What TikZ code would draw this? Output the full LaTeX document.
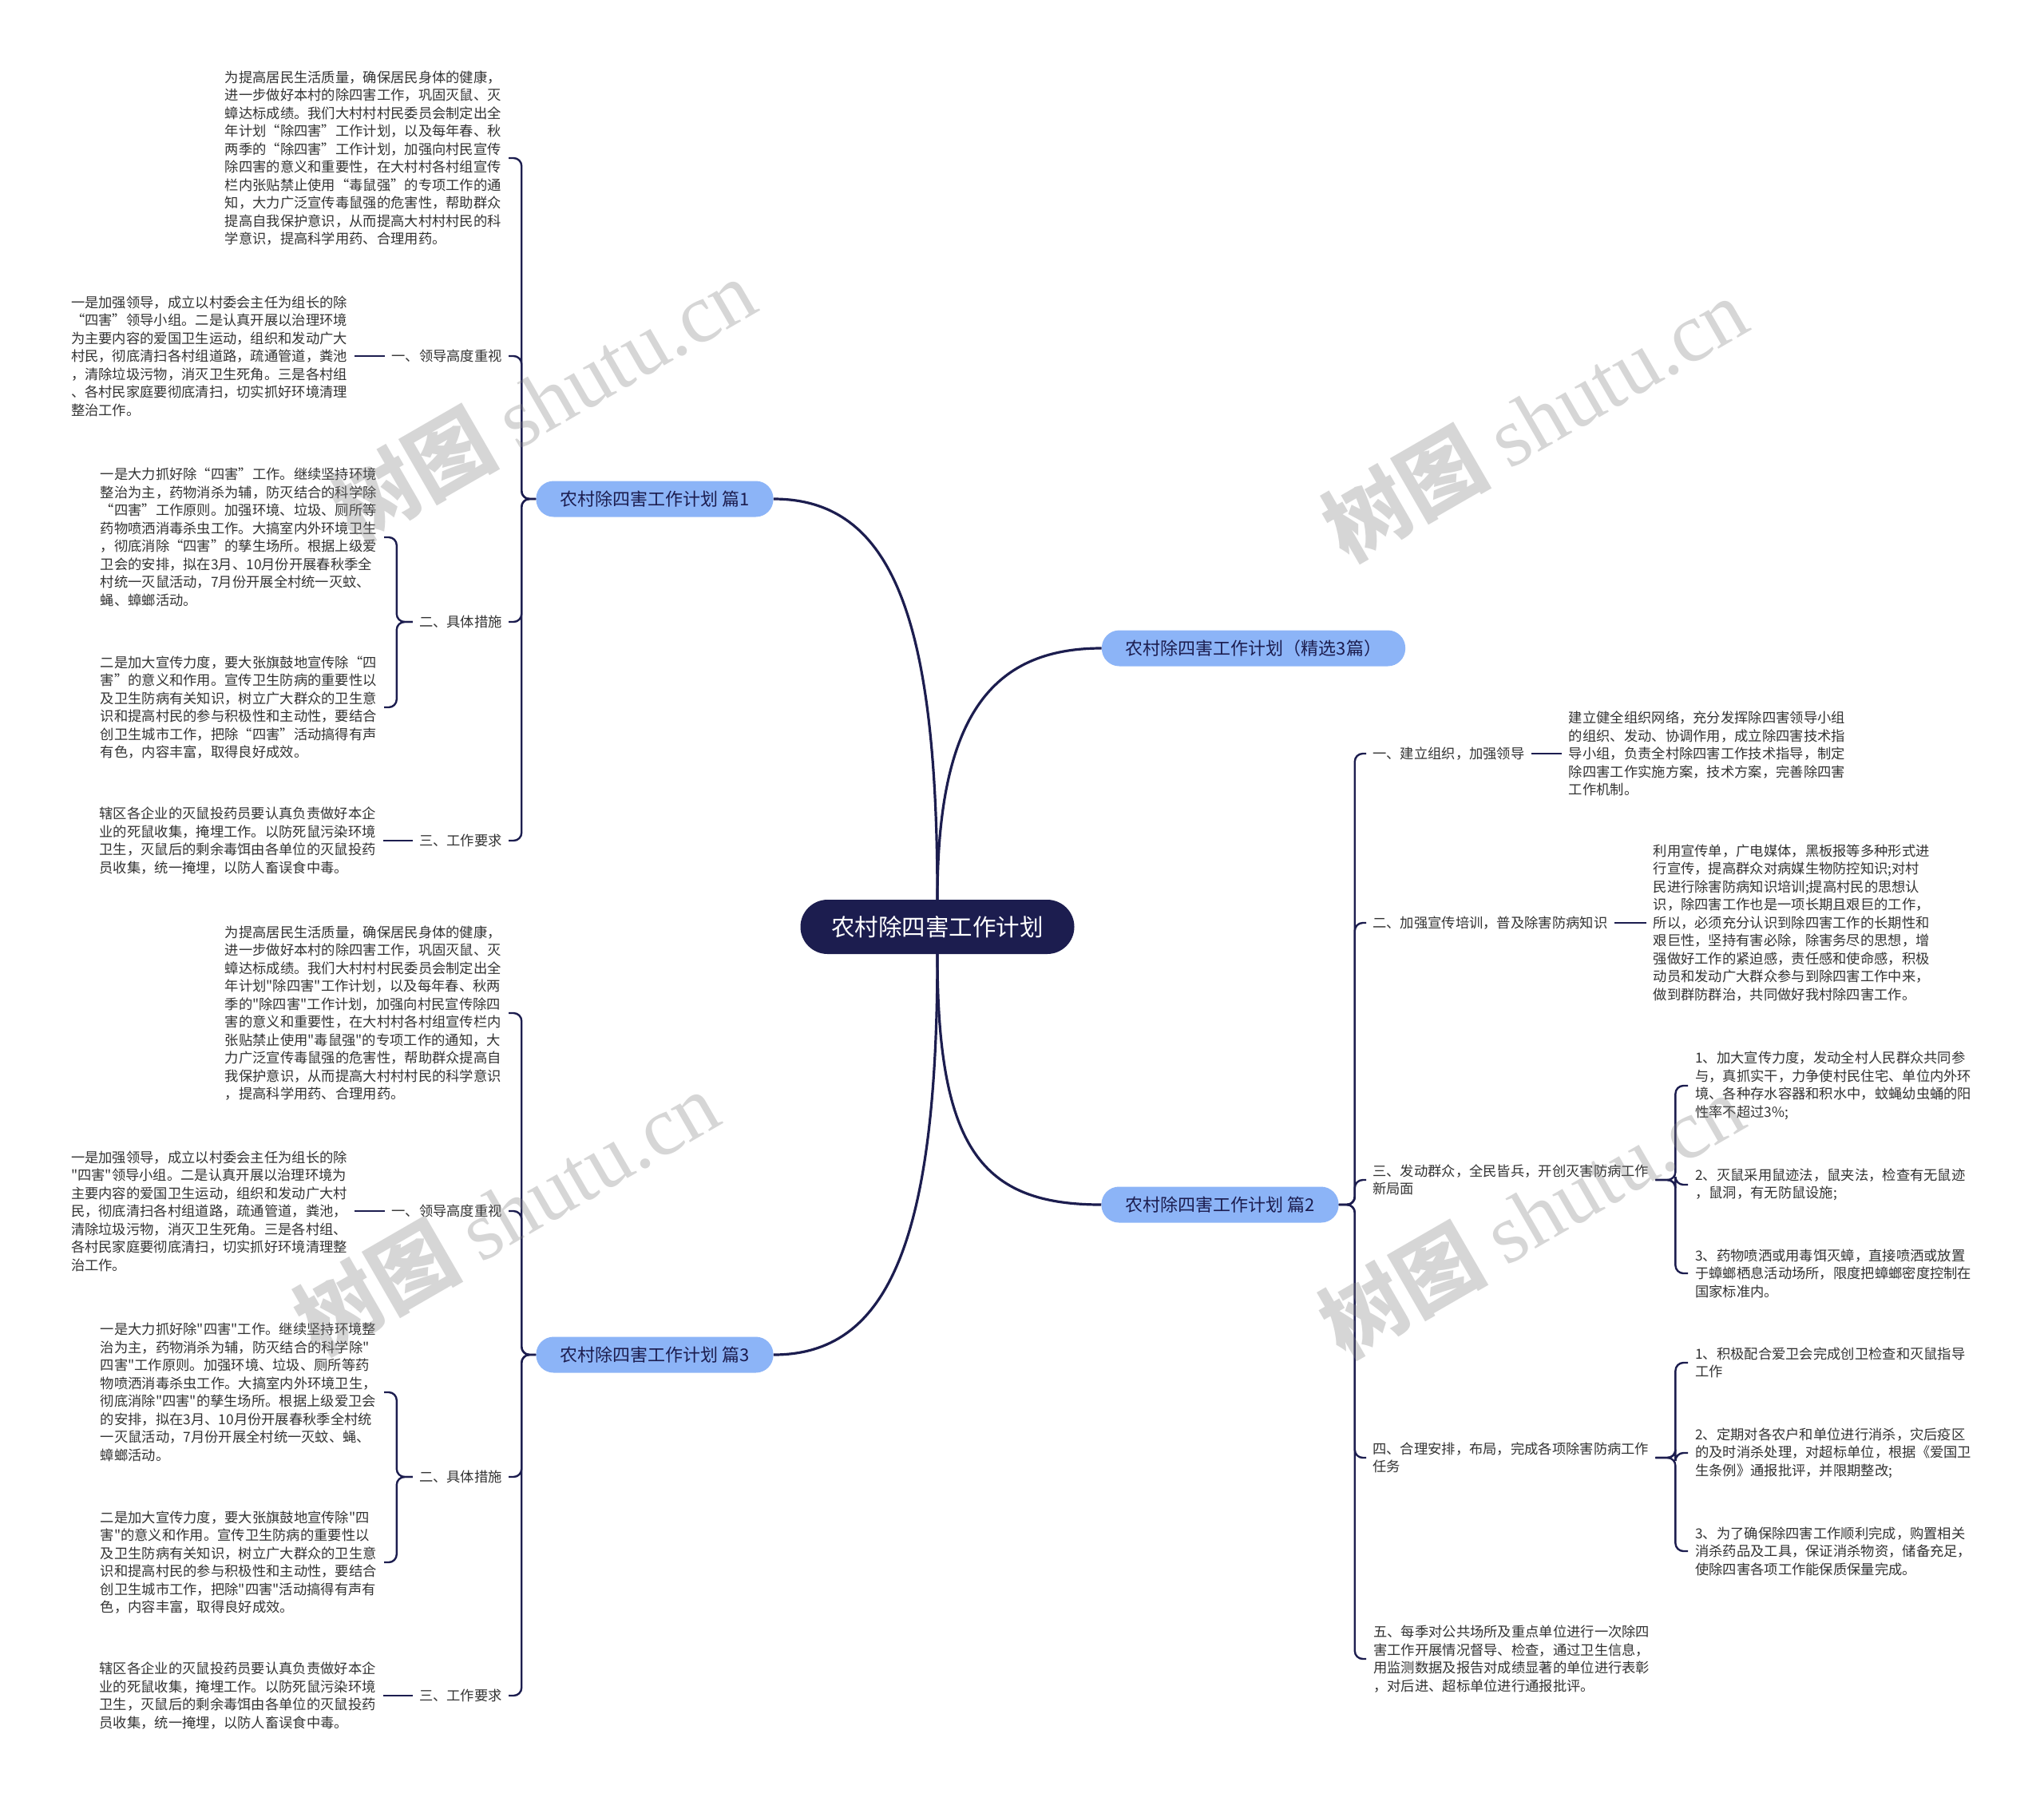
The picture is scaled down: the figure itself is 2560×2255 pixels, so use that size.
\documentclass[tikz,border=0pt]{standalone}
\usepackage{fontspec}
\setmainfont{Noto Sans CJK SC}
\newfontfamily\cjk{Noto Sans CJK SC}
\newfontfamily\wmlatin{Liberation Serif}
\usetikzlibrary{positioning}
\definecolor{navy}{HTML}{1C1D4F}
\definecolor{topicblue}{HTML}{8CB4F7}
\definecolor{txt}{HTML}{333333}

\begin{document}
\begin{tikzpicture}[x=1pt,y=-1pt,node distance=38pt,
  rootbox/.style={fill=navy,text=white,rounded corners=34pt,minimum width=343pt,minimum height=68pt,font=\cjk\fontsize{29.5}{34}\selectfont},
  topicbox/.style={fill=topicblue,text=navy,rounded corners=22pt,minimum height=45pt,inner xsep=30pt,font=\cjk\fontsize{22}{26}\selectfont},
  subitem/.style={text=txt,align=left,inner xsep=8pt,inner ysep=2pt,font=\cjk\fontsize{17.3}{22.5}\selectfont},
  leafbox/.style={subitem,inner xsep=9pt},
  conn/.style={draw=navy,line width=3.2pt},
  branchline/.style={draw=navy,line width=2.4pt,rounded corners=10pt},
  wm/.style={text=gray,text opacity=0.32,rotate=30,font=\cjk\bfseries\fontsize{105}{110}\selectfont}]
\fill[white] (0,0) rectangle (2560,2255);
\useasboundingbox (0,0) rectangle (2560,2255);

\node (main) [rootbox] at (1174,1161) {农村除四害工作计划};
\node (p0) [topicbox] at (1570,812) {农村除四害工作计划（精选3篇）};
\node (p1) [topicbox] at (820,625) {农村除四害工作计划 篇1};
\node (p2) [topicbox] at (1528,1509) {农村除四害工作计划 篇2};
\node (p3) [topicbox] at (820,1697) {农村除四害工作计划 篇3};

% 篇1
\node (t11) [leafbox,anchor=east] at (637,198) {为提高居民生活质量，确保居民身体的健康，\\进一步做好本村的除四害工作，巩固灭鼠、灭\\蟑达标成绩。我们大村村村民委员会制定出全\\年计划“除四害”工作计划，以及每年春、秋\\两季的“除四害”工作计划，加强向村民宣传\\除四害的意义和重要性，在大村村各村组宣传\\栏内张贴禁止使用“毒鼠强”的专项工作的通\\知，大力广泛宣传毒鼠强的危害性，帮助群众\\提高自我保护意识，从而提高大村村村民的科\\学意识，提高科学用药、合理用药。};
\node (s11) [subitem,anchor=east] at (637,446) {一、领导高度重视};
\node (l11) [leafbox,left=of s11] {一是加强领导，成立以村委会主任为组长的除\\“四害”领导小组。二是认真开展以治理环境\\为主要内容的爱国卫生运动，组织和发动广大\\村民，彻底清扫各村组道路，疏通管道，粪池\\，清除垃圾污物，消灭卫生死角。三是各村组\\、各村民家庭要彻底清扫，切实抓好环境清理\\整治工作。};
\node (s12) [subitem,anchor=east] at (637,779) {二、具体措施};
\node (m11) [leafbox,anchor=east] at (481,673) {一是大力抓好除“四害”工作。继续坚持环境\\整治为主，药物消杀为辅，防灭结合的科学除\\“四害”工作原则。加强环境、垃圾、厕所等\\药物喷洒消毒杀虫工作。大搞室内外环境卫生\\，彻底消除“四害”的孳生场所。根据上级爱\\卫会的安排，拟在3月、10月份开展春秋季全\\村统一灭鼠活动，7月份开展全村统一灭蚊、\\蝇、蟑螂活动。};
\node (m12) [leafbox,anchor=east] at (481,886) {二是加大宣传力度，要大张旗鼓地宣传除“四\\害”的意义和作用。宣传卫生防病的重要性以\\及卫生防病有关知识，树立广大群众的卫生意\\识和提高村民的参与积极性和主动性，要结合\\创卫生城市工作，把除“四害”活动搞得有声\\有色，内容丰富，取得良好成效。};
\node (s13) [subitem,anchor=east] at (637,1053) {三、工作要求};
\node (w11) [leafbox,left=37pt of s13] {辖区各企业的灭鼠投药员要认真负责做好本企\\业的死鼠收集，掩埋工作。以防死鼠污染环境\\卫生，灭鼠后的剩余毒饵由各单位的灭鼠投药\\员收集，统一掩埋，以防人畜误食中毒。};

% 篇3
\node (t31) [leafbox,anchor=east] at (637,1269) {为提高居民生活质量，确保居民身体的健康，\\进一步做好本村的除四害工作，巩固灭鼠、灭\\蟑达标成绩。我们大村村村民委员会制定出全\\年计划"除四害"工作计划，以及每年春、秋两\\季的"除四害"工作计划，加强向村民宣传除四\\害的意义和重要性，在大村村各村组宣传栏内\\张贴禁止使用"毒鼠强"的专项工作的通知，大\\力广泛宣传毒鼠强的危害性，帮助群众提高自\\我保护意识，从而提高大村村村民的科学意识\\，提高科学用药、合理用药。};
\node (s31) [subitem,anchor=east] at (637,1517) {一、领导高度重视};
\node (l31) [leafbox,left=of s31] {一是加强领导，成立以村委会主任为组长的除\\"四害"领导小组。二是认真开展以治理环境为\\主要内容的爱国卫生运动，组织和发动广大村\\民，彻底清扫各村组道路，疏通管道，粪池，\\清除垃圾污物，消灭卫生死角。三是各村组、\\各村民家庭要彻底清扫，切实抓好环境清理整\\治工作。};
\node (s32) [subitem,anchor=east] at (637,1850) {二、具体措施};
\node (m31) [leafbox,anchor=east] at (481,1744) {一是大力抓好除"四害"工作。继续坚持环境整\\治为主，药物消杀为辅，防灭结合的科学除"\\四害"工作原则。加强环境、垃圾、厕所等药\\物喷洒消毒杀虫工作。大搞室内外环境卫生，\\彻底消除"四害"的孳生场所。根据上级爱卫会\\的安排，拟在3月、10月份开展春秋季全村统\\一灭鼠活动，7月份开展全村统一灭蚊、蝇、\\蟑螂活动。};
\node (m32) [leafbox,anchor=east] at (481,1957) {二是加大宣传力度，要大张旗鼓地宣传除"四\\害"的意义和作用。宣传卫生防病的重要性以\\及卫生防病有关知识，树立广大群众的卫生意\\识和提高村民的参与积极性和主动性，要结合\\创卫生城市工作，把除"四害"活动搞得有声有\\色，内容丰富，取得良好成效。};
\node (s33) [subitem,anchor=east] at (637,2124) {三、工作要求};
\node (w31) [leafbox,left=37pt of s33] {辖区各企业的灭鼠投药员要认真负责做好本企\\业的死鼠收集，掩埋工作。以防死鼠污染环境\\卫生，灭鼠后的剩余毒饵由各单位的灭鼠投药\\员收集，统一掩埋，以防人畜误食中毒。};

% 篇2
\node (r1) [subitem,anchor=west] at (1711,944) {一、建立组织，加强领导};
\node (rb1) [leafbox,right=of r1] {建立健全组织网络，充分发挥除四害领导小组\\的组织、发动、协调作用，成立除四害技术指\\导小组，负责全村除四害工作技术指导，制定\\除四害工作实施方案，技术方案，完善除四害\\工作机制。};
\node (r2) [subitem,anchor=west] at (1711,1156) {二、加强宣传培训，普及除害防病知识};
\node (rb2) [leafbox,right=40pt of r2] {利用宣传单，广电媒体，黑板报等多种形式进\\行宣传，提高群众对病媒生物防控知识;对村\\民进行除害防病知识培训;提高村民的思想认\\识，除四害工作也是一项长期且艰巨的工作，\\所以，必须充分认识到除四害工作的长期性和\\艰巨性，坚持有害必除，除害务尽的思想，增\\强做好工作的紧迫感，责任感和使命感，积极\\动员和发动广大群众参与到除四害工作中来，\\做到群防群治，共同做好我村除四害工作。};
\node (r3) [subitem,anchor=west] at (1711,1478) {三、发动群众，全民皆兵，开创灭害防病工作\\新局面};
\node (c31) [leafbox,anchor=west] at (2114,1360) {1、加大宣传力度，发动全村人民群众共同参\\与，真抓实干，力争使村民住宅、单位内外环\\境、各种存水容器和积水中，蚊蝇幼虫蛹的阳\\性率不超过3\%;};
\node (c32) [leafbox,anchor=west] at (2114,1484) {2、灭鼠采用鼠迹法，鼠夹法，检查有无鼠迹\\，鼠洞，有无防鼠设施;};
\node (c33) [leafbox,anchor=west] at (2114,1595) {3、药物喷洒或用毒饵灭蟑，直接喷洒或放置\\于蟑螂栖息活动场所，限度把蟑螂密度控制在\\国家标准内。};
\node (r4) [subitem,anchor=west] at (1711,1826) {四、合理安排，布局，完成各项除害防病工作\\任务};
\node (d41) [leafbox,anchor=west] at (2114,1707) {1、积极配合爱卫会完成创卫检查和灭鼠指导\\工作};
\node (d42) [leafbox,anchor=west] at (2114,1820) {2、定期对各农户和单位进行消杀，灾后疫区\\的及时消杀处理，对超标单位，根据《爱国卫\\生条例》通报批评，并限期整改;};
\node (d43) [leafbox,anchor=west] at (2114,1943) {3、为了确保除四害工作顺利完成，购置相关\\消杀药品及工具，保证消杀物资，储备充足，\\使除四害各项工作能保质保量完成。};
\node (r5) [leafbox,anchor=west] at (1711,2078) {五、每季对公共场所及重点单位进行一次除四\\害工作开展情况督导、检查，通过卫生信息，\\用监测数据及报告对成绩显著的单位进行表彰\\，对后进、超标单位进行通报批评。};

\draw[conn] (main.north) .. controls (1174,780) and (1120,625) .. (p1.east);
\draw[conn] (main.north) .. controls (1174,900) and (1240,812) .. (p0.west);
\draw[conn] (main.south) .. controls (1174,1440) and (1230,1509) .. (p2.west);
\draw[conn] (main.south) .. controls (1174,1560) and (1110,1697) .. (p3.east);

\foreach \c in {t11,s11,s12,s13} \draw[branchline] (p1.west) -- ++(-18,0) |- (\c.east);
\foreach \c in {m11,m12} \draw[branchline] (s12.west) -- ++(-20,0) |- (\c.east);
\draw[branchline] (s11.west) -- (l11.east);
\draw[branchline] (s13.west) -- (w11.east);
\foreach \c in {t31,s31,s32,s33} \draw[branchline] (p3.west) -- ++(-18,0) |- (\c.east);
\foreach \c in {m31,m32} \draw[branchline] (s32.west) -- ++(-20,0) |- (\c.east);
\draw[branchline] (s31.west) -- (l31.east);
\draw[branchline] (s33.west) -- (w31.east);
\foreach \c in {r1,r2,r3,r4,r5} \draw[branchline] (p2.east) -- ++(20,0) |- (\c.west);
\draw[branchline] (r1.east) -- (rb1.west);
\draw[branchline] (r2.east) -- (rb2.west);
\foreach \c in {c31,c32,c33} \draw[branchline] (r3.east) -- ++(25,0) |- (\c.west);
\foreach \c in {d41,d42,d43} \draw[branchline] (r4.east) -- ++(25,0) |- (\c.west);

\node[wm] at (680,500) {树图 {\wmlatin\mdseries shutu.cn}};
\node[wm] at (1922,524) {树图 {\wmlatin\mdseries shutu.cn}};
\node[wm] at (634,1518) {树图 {\wmlatin\mdseries shutu.cn}};
\node[wm] at (1918,1522) {树图 {\wmlatin\mdseries shutu.cn}};
\end{tikzpicture}
\end{document}
